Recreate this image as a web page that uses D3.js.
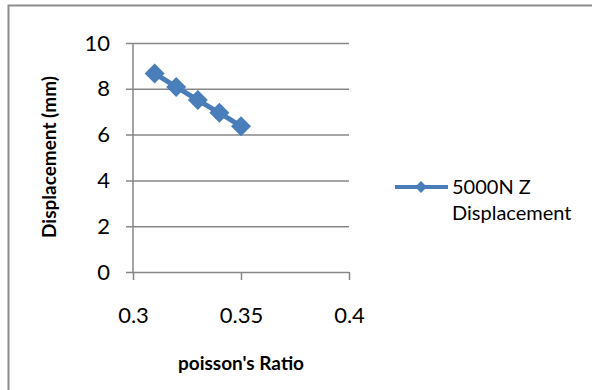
<!doctype html>
<html lang="en-us">

<head>
	<meta charset="utf-8">
	<title>Displacement vs poisson's Ratio</title>
	<script src="https://d3js.org/d3.v7.min.js"></script>
	<style>
		body { margin: 0; background: #fff; }
		text { font-family: Lato, "Open Sans", sans-serif; fill: #000; }
	</style>
</head>

<body>
	<div id="graph"></div>

	<script>
		// data
		var poissonRatio = [0.31, 0.32, 0.33, 0.34, 0.35];
		var displacement = [8.67, 8.08, 7.51, 6.95, 6.37];
		var xTicks = [0.3, 0.35, 0.4];
		var yTicks = [0, 2, 4, 6, 8, 10];
		var seriesName = ["5000N Z", "Displacement"];

		var data = poissonRatio.map(function (d, i) {
			return { "Ratio": d, "Disp": displacement[i] };
		});

		// plot area
		var margin = { top: 43, left: 133 },
			width = 216,
			height = 229;

		var x = d3.scaleLinear().domain([0.3, 0.4]).range([0, width]);
		var y = d3.scaleLinear().domain([0, 10]).range([height, 0]);

		var blue = "#4a7ebb";
		var grey = "#878787";

		var svg = d3.select("#graph").append("svg")
			.attr("width", 592)
			.attr("height", 390);

		// outer chart border (cut off at right / bottom)
		svg.append("rect")
			.attr("x", 8.5).attr("y", 5.5)
			.attr("width", 620).attr("height", 420)
			.attr("fill", "none")
			.attr("stroke", "#8c8c8c")
			.attr("stroke-width", 2);

		var g = svg.append("g")
			.attr("transform", "translate(" + margin.left + "," + margin.top + ")");

		// gridlines + y axis
		var yAxis = g.append("g")
			.call(d3.axisLeft(y).tickValues(yTicks).tickSize(-width).tickSizeOuter(0).tickPadding(23)
				.tickFormat(d3.format("d")));
		yAxis.select(".domain").remove();
		yAxis.selectAll(".tick line")
			.attr("x1", -7)
			.attr("stroke", grey).attr("stroke-width", 1.5);
		yAxis.selectAll(".tick text")
			.style("font-size", "22px");

		// left axis line
		g.append("line")
			.attr("x1", 0).attr("x2", 0)
			.attr("y1", 0).attr("y2", height)
			.attr("stroke", grey).attr("stroke-width", 1.5);

		// x axis
		var xAxis = g.append("g")
			.attr("transform", "translate(0," + height + ")")
			.call(d3.axisBottom(x).tickValues(xTicks).tickSize(8).tickSizeOuter(0).tickPadding(27)
				.tickFormat(function (d) { return String(d); }));
		xAxis.select(".domain").remove();
		xAxis.selectAll(".tick line")
			.attr("stroke", grey).attr("stroke-width", 1.5);
		xAxis.selectAll(".tick text")
			.style("font-size", "22px");

		// the line
		var valueline = d3.line()
			.x(function (d) { return x(d.Ratio); })
			.y(function (d) { return y(d.Disp); });

		g.append("path")
			.datum(data)
			.attr("fill", "none")
			.attr("stroke", blue)
			.attr("stroke-width", 5)
			.attr("d", valueline);

		// diamond markers
		var diamond = d3.symbol().type(d3.symbolSquare).size(200);
		g.selectAll(".marker")
			.data(data)
			.enter().append("path")
			.attr("class", "marker")
			.attr("d", diamond)
			.attr("fill", blue)
			.attr("transform", function (d) {
				return "translate(" + x(d.Ratio) + "," + y(d.Disp) + ") rotate(45)";
			});

		// axis titles
		svg.append("text")
			.attr("x", margin.left + width / 2)
			.attr("y", 370)
			.attr("text-anchor", "middle")
			.style("font-size", "19px")
			.style("font-weight", "bold")
			.text("poisson's Ratio");

		svg.append("text")
			.attr("transform", "translate(56,157) rotate(-90)")
			.attr("text-anchor", "middle")
			.style("font-size", "19px")
			.style("font-weight", "bold")
			.text("Displacement (mm)");

		// legend
		var legend = svg.append("g").attr("transform", "translate(395,187)");
		legend.append("line")
			.attr("x1", 0).attr("x2", 53)
			.attr("stroke", blue).attr("stroke-width", 4);
		legend.append("path")
			.attr("d", d3.symbol().type(d3.symbolSquare).size(70))
			.attr("fill", blue)
			.attr("transform", "translate(26,0) rotate(45)");
		legend.selectAll(".lbl")
			.data(seriesName)
			.enter().append("text")
			.attr("class", "lbl")
			.attr("x", 57)
			.attr("y", function (d, i) { return i * 26; })
			.attr("dy", "0.35em")
			.style("font-size", "20px")
			.text(function (d) { return d; });
	</script>
</body>

</html>
